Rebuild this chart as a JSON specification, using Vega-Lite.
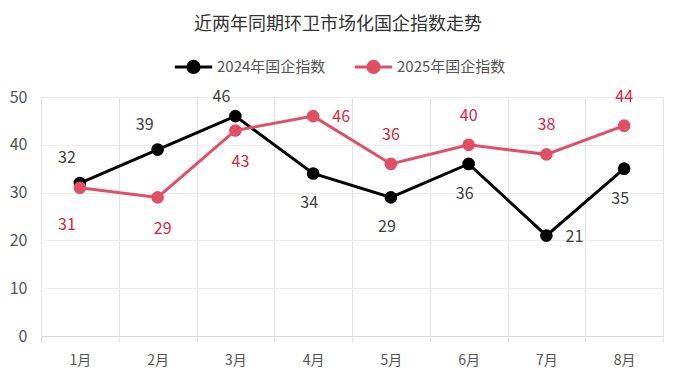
{
  "$schema": "https://vega.github.io/schema/vega-lite/v6.json",
  "width": 622,
  "height": 239,
  "autosize": {"type": "none"},
  "padding": {"left": 41, "top": 97, "right": 13, "bottom": 53},
  "background": "white",
  "title": {
    "text": "近两年同期环卫市场化国企指数走势",
    "anchor": "middle",
    "dx": -14,
    "fontSize": 18,
    "fontWeight": "normal",
    "color": "#333333",
    "font": "Noto Sans CJK SC",
    "offset": 12
  },
  "config": {
    "font": "Noto Sans CJK SC",
    "view": {"stroke": "#dddddd", "strokeWidth": 1}
  },
  "data": {
    "values": [
      {"month": "1月", "series": "2024年国企指数", "value": 32},
      {"month": "2月", "series": "2024年国企指数", "value": 39},
      {"month": "3月", "series": "2024年国企指数", "value": 46},
      {"month": "4月", "series": "2024年国企指数", "value": 34},
      {"month": "5月", "series": "2024年国企指数", "value": 29},
      {"month": "6月", "series": "2024年国企指数", "value": 36},
      {"month": "7月", "series": "2024年国企指数", "value": 21},
      {"month": "8月", "series": "2024年国企指数", "value": 35},
      {"month": "1月", "series": "2025年国企指数", "value": 31},
      {"month": "2月", "series": "2025年国企指数", "value": 29},
      {"month": "3月", "series": "2025年国企指数", "value": 43},
      {"month": "4月", "series": "2025年国企指数", "value": 46},
      {"month": "5月", "series": "2025年国企指数", "value": 36},
      {"month": "6月", "series": "2025年国企指数", "value": 40},
      {"month": "7月", "series": "2025年国企指数", "value": 38},
      {"month": "8月", "series": "2025年国企指数", "value": 44}
    ]
  },
  "encoding": {
    "x": {
      "field": "month",
      "type": "nominal",
      "sort": null,
      "scale": {"type": "band", "paddingInner": 0, "paddingOuter": 0},
      "axis": {
        "title": null,
        "labelAngle": 0,
        "tickBand": "extent",
        "grid": true,
        "gridColor": "#e2e2e2",
        "ticks": true,
        "tickColor": "#e2e2e2",
        "tickSize": 6,
        "domain": true,
        "domainColor": "#d8d8d8",
        "labelFontSize": 14,
        "labelColor": "#555555",
        "labelPadding": 11
      }
    },
    "y": {
      "field": "value",
      "type": "quantitative",
      "scale": {"domain": [0, 50]},
      "axis": {
        "title": null,
        "values": [0, 10, 20, 30, 40, 50],
        "labelOverlap": false,
        "domain": false,
        "ticks": false,
        "grid": true,
        "gridColor": "#ececec",
        "labelFontSize": 16,
        "labelColor": "#555555",
        "labelPadding": 14
      }
    },
    "color": {
      "field": "series",
      "type": "nominal",
      "scale": {"domain": ["2024年国企指数", "2025年国企指数"], "range": ["#000000", "#E04F66"]},
      "legend": {
        "title": null,
        "orient": "none",
        "direction": "horizontal",
        "legendX": 132,
        "legendY": -51,
        "symbolType": "M-1,0L1,0M0.3,0A0.3,0.3 0 1,1 -0.3,0A0.3,0.3 0 1,1 0.3,0Z",
        "symbolSize": 1400,
        "symbolStrokeWidth": 3,
        "labelFontSize": 15,
        "labelColor": "#555555",
        "labelOffset": 3,
        "columnPadding": 22,
        "encode": {
          "symbols": {"update": {"fill": {"scale": "color", "field": "value"}, "stroke": {"scale": "color", "field": "value"}, "opacity": {"value": 1}}}
        }
      }
    }
  },
  "layer": [
    {"mark": {"type": "line", "strokeWidth": 3}},
    {"mark": {"type": "point", "filled": true, "size": 160, "opacity": 1}},
    {
      "transform": [{"filter": "datum.series == '2024年国企指数' && indexof(['1月','2月'], datum.month) >= 0"}],
      "mark": {"type": "text", "dx": -13, "dy": -25, "fontSize": 16, "baseline": "middle"},
      "encoding": {"text": {"field": "value"}, "color": {"value": "#404040"}}
    },
    {
      "transform": [{"filter": "datum.series == '2024年国企指数' && datum.month == '3月'"}],
      "mark": {"type": "text", "dx": -14, "dy": -19, "fontSize": 16, "baseline": "middle"},
      "encoding": {"text": {"field": "value"}, "color": {"value": "#404040"}}
    },
    {
      "transform": [{"filter": "datum.series == '2024年国企指数' && indexof(['4月','5月','6月','8月'], datum.month) >= 0"}],
      "mark": {"type": "text", "dx": -4, "dy": 30, "fontSize": 16, "baseline": "middle"},
      "encoding": {"text": {"field": "value"}, "color": {"value": "#404040"}}
    },
    {
      "transform": [{"filter": "datum.series == '2024年国企指数' && datum.month == '7月'"}],
      "mark": {"type": "text", "dx": 28, "dy": 1, "fontSize": 16, "baseline": "middle"},
      "encoding": {"text": {"field": "value"}, "color": {"value": "#404040"}}
    },
    {
      "transform": [{"filter": "datum.series == '2025年国企指数' && datum.month == '1月'"}],
      "mark": {"type": "text", "dx": -13, "dy": 37, "fontSize": 16, "baseline": "middle"},
      "encoding": {"text": {"field": "value"}, "color": {"value": "#D9243A"}}
    },
    {
      "transform": [{"filter": "datum.series == '2025年国企指数' && indexof(['2月','3月'], datum.month) >= 0"}],
      "mark": {"type": "text", "dx": 5, "dy": 32, "fontSize": 16, "baseline": "middle"},
      "encoding": {"text": {"field": "value"}, "color": {"value": "#D9243A"}}
    },
    {
      "transform": [{"filter": "datum.series == '2025年国企指数' && datum.month == '4月'"}],
      "mark": {"type": "text", "dx": 28, "dy": 1, "fontSize": 16, "baseline": "middle"},
      "encoding": {"text": {"field": "value"}, "color": {"value": "#D9243A"}}
    },
    {
      "transform": [{"filter": "datum.series == '2025年国企指数' && indexof(['5月','6月','7月','8月'], datum.month) >= 0"}],
      "mark": {"type": "text", "dx": 0, "dy": -29, "fontSize": 16, "baseline": "middle"},
      "encoding": {"text": {"field": "value"}, "color": {"value": "#D9243A"}}
    }
  ]
}
